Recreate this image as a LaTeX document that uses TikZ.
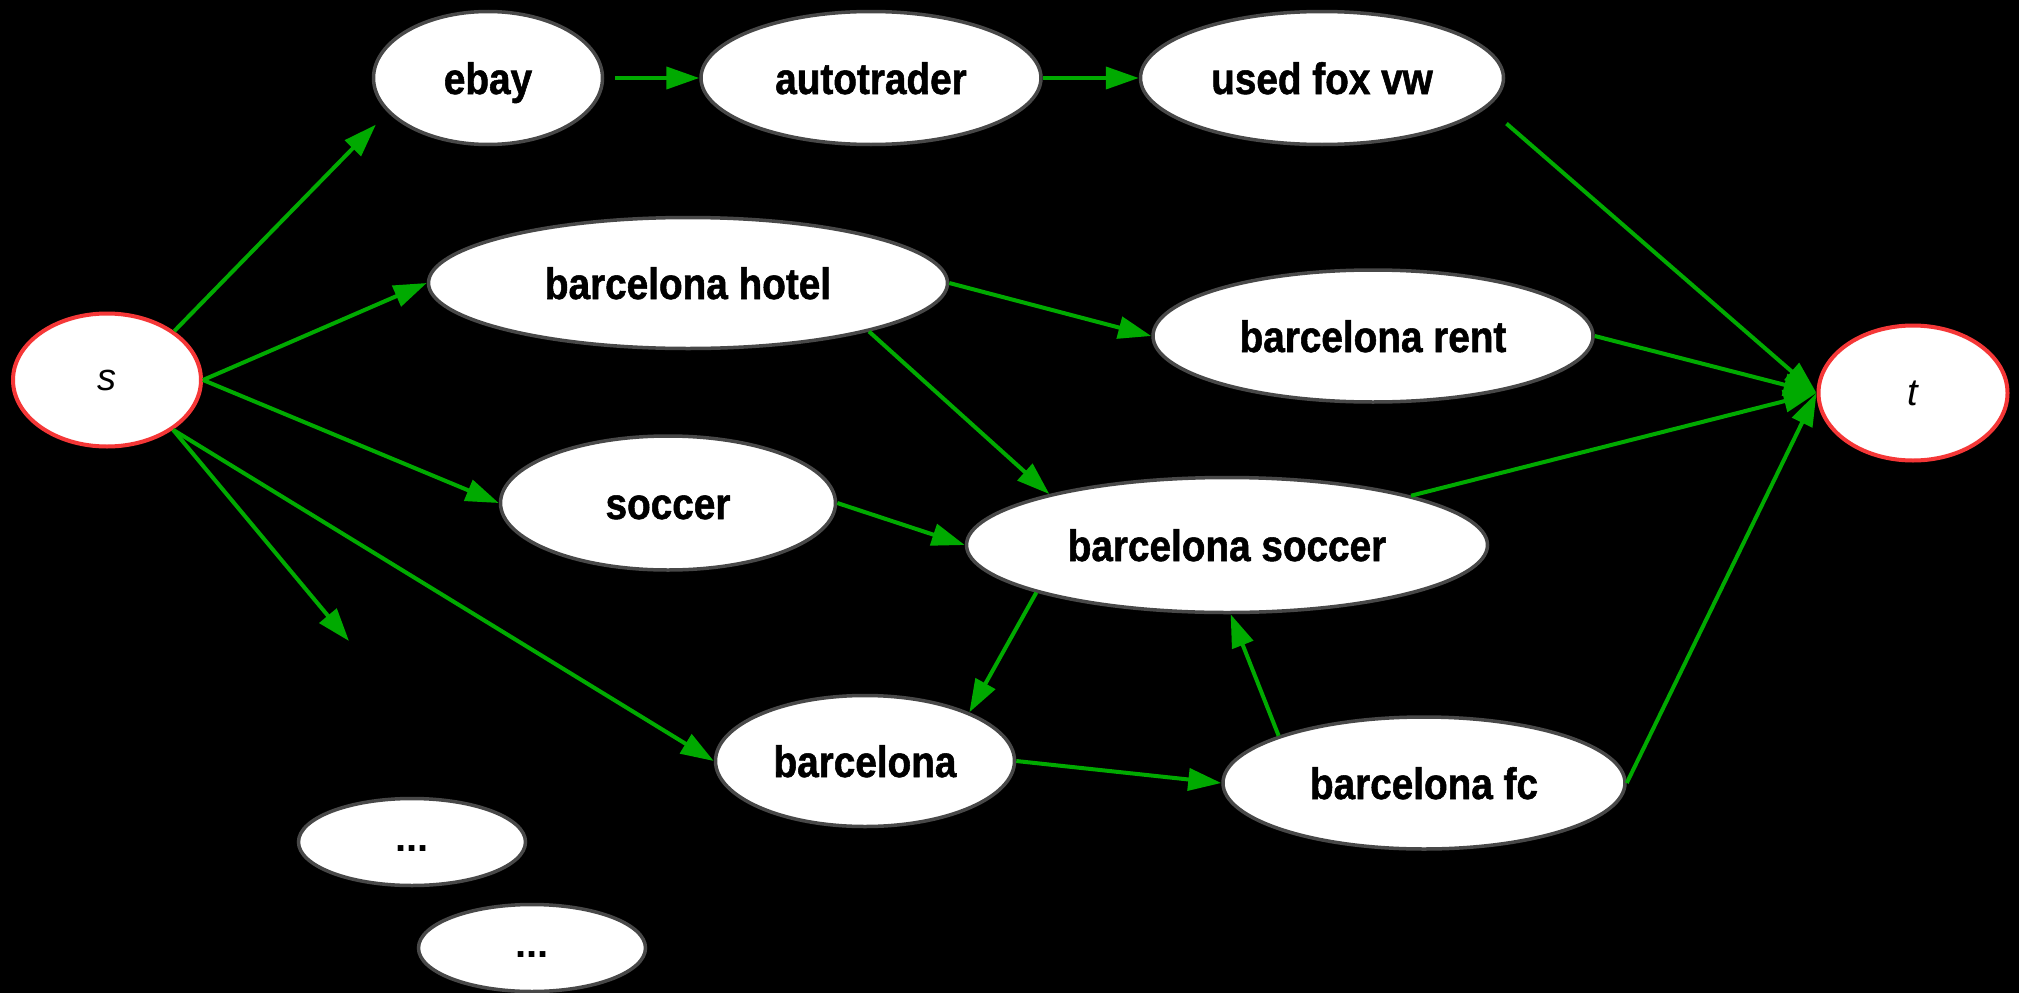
\documentclass[tikz,border=0pt]{standalone}
\usepackage{fontspec}
\newfontfamily\labelfont[FakeStretch=0.88, BoldFeatures={FakeBold=1.2}]{Liberation Sans}
\newfontfamily\termfont{Liberation Sans}
\usetikzlibrary{shapes.geometric,arrows.meta}
\definecolor{edgegreen}{RGB}{0,170,0}
\definecolor{rimgray}{RGB}{72,72,72}
\definecolor{termred}{RGB}{245,55,55}

\begin{document}
\begin{tikzpicture}[x=1pt,y=-1pt,
  query/.style={ellipse, draw=rimgray, line width=3.5pt, fill=white, inner sep=0pt,
    text height=32pt, text depth=0pt,
    font=\labelfont\bfseries\fontsize{44}{50}\selectfont},
  terminal/.style={ellipse, draw=termred, line width=4pt, fill=white, inner sep=0pt,
    font=\termfont\itshape\fontsize{38}{44}\selectfont},
  more/.style={ellipse, draw=rimgray, line width=3.5pt, fill=white, inner sep=0pt,
    minimum width=227pt, minimum height=87pt, font=\termfont\bfseries\fontsize{40}{46}\selectfont},
  link/.style={draw=edgegreen, line width=4pt, -{Triangle[length=33pt,width=22pt]}},
]
% canvas
\fill[black] (0,0) rectangle (2019,993);
\useasboundingbox (0,0) rectangle (2019,993);

% source and sink
\node[terminal, minimum width=188pt, minimum height=133pt] (s) at (107,380) {s};
\node[terminal, minimum width=189pt, minimum height=135pt] (t) at (1913,393) {t};

% query nodes
\node[query, minimum width=229pt, minimum height=133pt] (ebay) at (488,78) {ebay};
\node[query, minimum width=340pt, minimum height=133pt] (auto) at (871,78) {autotrader};
\node[query, minimum width=363pt, minimum height=133pt] (ufv) at (1322,78) {used fox vw};
\node[query, minimum width=519pt, minimum height=131pt] (bh) at (688,283) {barcelona hotel};
\node[query, minimum width=440pt, minimum height=132pt] (br) at (1373,336) {barcelona rent};
\node[query, minimum width=335pt, minimum height=134pt] (soc) at (668,503) {soccer};
\node[query, minimum width=521pt, minimum height=135pt] (bs) at (1227,545) {barcelona soccer};
\node[query, minimum width=299pt, minimum height=131pt] (b) at (865,761) {barcelona};
\node[query, minimum width=402pt, minimum height=132pt] (bfc) at (1424,783) {barcelona fc};

% elided nodes
\node[more] (more1) at (412,842) {\vphantom{Ap}...};
\node[more] (more2) at (532,948) {\vphantom{Ap}...};

% open end of the dangling edge
\coordinate (open) at (349,641);

% edges
\draw[link, shorten >=17pt] (s.36) -- (ebay.199);
\draw[link, shorten <=11pt] (ebay.east) -- (auto.west);
\draw[link] (auto.east) -- (ufv.west);
\draw[link, shorten <=25pt] (ufv.-10) -- (t.west);
\draw[link] (s.east) -- (bh.west);
\draw[link] (bh.east) -- (br.west);
\draw[link] (br.east) -- (t.west);
\draw[link] (bh.-15) -- (bs.164);
\draw[link] (s.east) -- (soc.west);
\draw[link] (soc.east) -- (bs.west);
\draw[link] (bs.15) -- (t.west);
\draw[link] (s.-37) -- (open);
\draw[link] (s.-37) -- (b.west);
\draw[link] (bs.194) -- (b.25);
\draw[link] (b.east) -- (bfc.west);
\draw[link] (bfc.162) -- (bs.-87);
\draw[link] (bfc.east) -- (t.west);
\end{tikzpicture}
\end{document}
